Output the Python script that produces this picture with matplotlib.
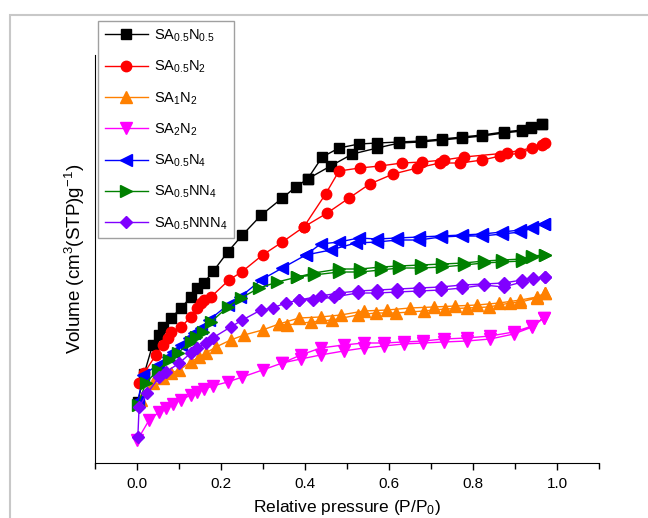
import numpy as np
import matplotlib
matplotlib.use('Agg')
import matplotlib.pyplot as plt
from matplotlib.patches import Rectangle
from matplotlib.ticker import MultipleLocator

plt.rcParams['font.family'] = ['Liberation Sans', 'DejaVu Sans']
plt.rcParams['mathtext.default'] = 'regular'

# N2 isotherms, adsorption branch then desorption branch (arbitrary volume units)
p_black_ads = [0.002, 0.017, 0.037, 0.053, 0.061, 0.081, 0.105, 0.128, 0.143, 0.159, 0.182, 0.216, 0.251, 0.296,
               0.346, 0.378, 0.406, 0.461, 0.513, 0.572, 0.624, 0.675, 0.727, 0.774, 0.822, 0.873, 0.917, 0.937, 0.964]
v_black_ads = [61, 89, 118, 128, 136, 145, 155, 166, 175, 180, 192, 211, 228, 248,
               265, 276, 284, 297, 309, 315, 320, 321, 323, 325, 327, 330, 332, 335, 339]
p_black_des = [0.964, 0.937, 0.917, 0.873, 0.822, 0.774, 0.727, 0.675, 0.624, 0.572, 0.528, 0.481, 0.441, 0.406]
v_black_des = [339, 336, 333, 331, 328, 326, 324, 322, 321, 320, 319, 315, 306, 284]

p_red_ads = [0.005, 0.017, 0.045, 0.061, 0.073, 0.081, 0.105, 0.128, 0.143, 0.152, 0.159, 0.176, 0.219, 0.249,
             0.299, 0.346, 0.397, 0.453, 0.505, 0.554, 0.610, 0.667, 0.721, 0.770, 0.822, 0.865, 0.913, 0.964]
v_red_ads = [80, 90, 108, 118, 125, 131, 136, 146, 155, 160, 163, 166, 183, 191,
             208, 221, 236, 250, 265, 279, 289, 295, 300, 300, 303, 307, 310, 318]
p_red_des = [0.972, 0.940, 0.880, 0.778, 0.730, 0.679, 0.631, 0.578, 0.530, 0.481, 0.449, 0.397]
v_red_des = [320, 315, 310, 306, 303, 301, 300, 297, 295, 292, 269, 236]

p_orange_ads = [0.010, 0.037, 0.061, 0.081, 0.101, 0.128, 0.148, 0.164, 0.188, 0.223, 0.255, 0.299, 0.338,
                0.358, 0.414, 0.465, 0.525, 0.568, 0.616, 0.683, 0.734, 0.786, 0.837, 0.889, 0.913, 0.952, 0.972]
v_orange_ads = [63, 80, 85, 90, 93, 101, 106, 110, 116, 123, 128, 133, 139,
                138, 141, 143, 148, 150, 150, 152, 154, 155, 156, 160, 161, 165, 170]
p_orange_des = [0.972, 0.952, 0.913, 0.862, 0.810, 0.758, 0.706, 0.650, 0.596, 0.540, 0.485, 0.437, 0.386, 0.338]
v_orange_des = [170, 166, 163, 160, 158, 157, 156, 155, 153, 152, 148, 146, 145, 139]

p_magenta_ads = [0.001, 0.029, 0.053, 0.069, 0.085, 0.105, 0.128, 0.144, 0.160, 0.180, 0.216, 0.251, 0.299,
                 0.346, 0.390, 0.437, 0.492, 0.540, 0.587, 0.635, 0.682, 0.730, 0.786, 0.841, 0.897, 0.941, 0.968]
v_magenta_ads = [23, 43, 51, 55, 59, 63, 68, 71, 74, 77, 81, 86, 93,
                 100, 104, 108, 112, 115, 117, 119, 120, 121, 122, 124, 129, 136, 145]
p_magenta_des = [0.968, 0.941, 0.897, 0.841, 0.786, 0.730, 0.682, 0.635, 0.587, 0.540, 0.492, 0.437, 0.390, 0.346]
v_magenta_des = [145, 137, 131, 127, 125, 124, 122, 121, 120, 120, 118, 115, 108, 100]

p_blue_ads = [0.002, 0.015, 0.049, 0.073, 0.085, 0.105, 0.124, 0.136, 0.152, 0.172, 0.216, 0.246, 0.295, 0.346,
              0.402, 0.461, 0.521, 0.572, 0.620, 0.671, 0.723, 0.774, 0.822, 0.869, 0.913, 0.941, 0.968]
v_blue_ads = [62, 88, 98, 106, 111, 118, 125, 130, 135, 143, 158, 166, 183, 195,
              208, 213, 220, 221, 223, 223, 226, 227, 227, 229, 231, 235, 239]
p_blue_des = [0.968, 0.941, 0.913, 0.869, 0.822, 0.774, 0.723, 0.671, 0.620, 0.572, 0.528, 0.481, 0.437, 0.402]
v_blue_des = [239, 236, 233, 231, 229, 228, 227, 226, 225, 224, 225, 221, 219, 208]

p_green_ads = [0.002, 0.021, 0.050, 0.077, 0.097, 0.128, 0.140, 0.156, 0.176, 0.216, 0.247, 0.291, 0.334, 0.382,
               0.421, 0.481, 0.532, 0.580, 0.624, 0.675, 0.727, 0.778, 0.826, 0.869, 0.917, 0.941, 0.972]
v_green_ads = [58, 80, 93, 103, 110, 121, 126, 131, 141, 156, 165, 175, 181, 186,
               188, 191, 191, 193, 195, 195, 196, 198, 200, 201, 202, 206, 208]
p_green_des = [0.972, 0.941, 0.917, 0.869, 0.826, 0.778, 0.727, 0.675, 0.624, 0.580, 0.532, 0.481, 0.421, 0.382]
v_green_des = [208, 207, 204, 203, 202, 200, 199, 198, 197, 196, 194, 194, 190, 186]

p_purple_ads = [0.002, 0.005, 0.025, 0.053, 0.069, 0.101, 0.128, 0.144, 0.164, 0.180, 0.223, 0.251, 0.295, 0.323,
                0.354, 0.386, 0.418, 0.469, 0.525, 0.572, 0.620, 0.671, 0.723, 0.774, 0.826, 0.873, 0.917, 0.944, 0.972]
v_purple_ads = [26, 56, 70, 86, 91, 100, 110, 115, 120, 125, 136, 143, 153, 155,
                160, 163, 163, 166, 170, 170, 171, 172, 173, 175, 178, 176, 181, 184, 186]
p_purple_des = [0.972, 0.944, 0.917, 0.873, 0.826, 0.774, 0.723, 0.671, 0.620, 0.572, 0.525, 0.481, 0.437, 0.386]
v_purple_des = [186, 185, 183, 180, 179, 178, 176, 175, 174, 173, 172, 170, 167, 163]

names = [r'SA$_{0.5}$N$_{0.5}$', r'SA$_{0.5}$N$_2$', r'SA$_1$N$_2$', r'SA$_2$N$_2$',
         r'SA$_{0.5}$N$_4$', r'SA$_{0.5}$NN$_4$', r'SA$_{0.5}$NNN$_4$']

series = [
    (p_black_ads + p_black_des, v_black_ads + v_black_des, 'black', 's', 6.5),
    (p_red_ads + p_red_des, v_red_ads + v_red_des, '#ff0000', 'o', 7.5),
    (p_orange_ads + p_orange_des, v_orange_ads + v_orange_des, '#ff8000', '^', 8),
    (p_magenta_ads + p_magenta_des, v_magenta_ads + v_magenta_des, '#ff00ff', 'v', 8),
    (p_blue_ads + p_blue_des, v_blue_ads + v_blue_des, '#0000ff', '<', 8),
    (p_green_ads + p_green_des, v_green_ads + v_green_des, '#008000', '>', 8),
    (p_purple_ads + p_purple_des, v_purple_ads + v_purple_des, '#8000ff', 'D', 6.5),
]

fig = plt.figure(figsize=(6.48, 5.18), dpi=100)
ax = fig.add_axes([0.1466, 0.1062, 0.7778, 0.7876])

for (p, v, c, m, ms), name in zip(series, names):
    ax.plot(p, v, color=c, marker=m, markersize=ms, linewidth=1.0, label=name)

ax.set_xlim(-0.1, 1.1)
ax.set_ylim(0, 408)
ax.xaxis.set_major_locator(MultipleLocator(0.2))
ax.xaxis.set_minor_locator(MultipleLocator(0.1))
ax.set_yticks([])
ax.tick_params(axis='x', which='major', direction='out', length=5, width=1, labelsize=11, pad=5)
ax.tick_params(axis='x', which='minor', direction='out', length=4, width=1)
ax.spines['top'].set_visible(False)
ax.spines['right'].set_visible(False)

ax.set_xlabel(r'Relative pressure (P/P$_0$)', fontsize=12.5, labelpad=5)
ax.set_ylabel(r'Volume (cm$^3$(STP)g$^{-1}$)', fontsize=13.5, labelpad=6)

leg = ax.legend(loc='upper left', bbox_to_anchor=(98 / 648, 1 - 21 / 518), bbox_transform=fig.transFigure,
                fontsize=10.5, handlelength=3.0, handletextpad=0.4, labelspacing=1.02,
                borderpad=0.45, borderaxespad=0, fancybox=False, framealpha=1)
leg.get_frame().set_edgecolor('#a0a0a0')
leg.get_frame().set_linewidth(1.0)

# light outer frame
fig.patches.append(Rectangle((10 / 648, -0.1), 1.2, 1.1 - 15 / 518, transform=fig.transFigure,
                             fill=False, edgecolor='#c8c8c8', linewidth=1.5, zorder=0))

fig.savefig('out.png', dpi=100)
